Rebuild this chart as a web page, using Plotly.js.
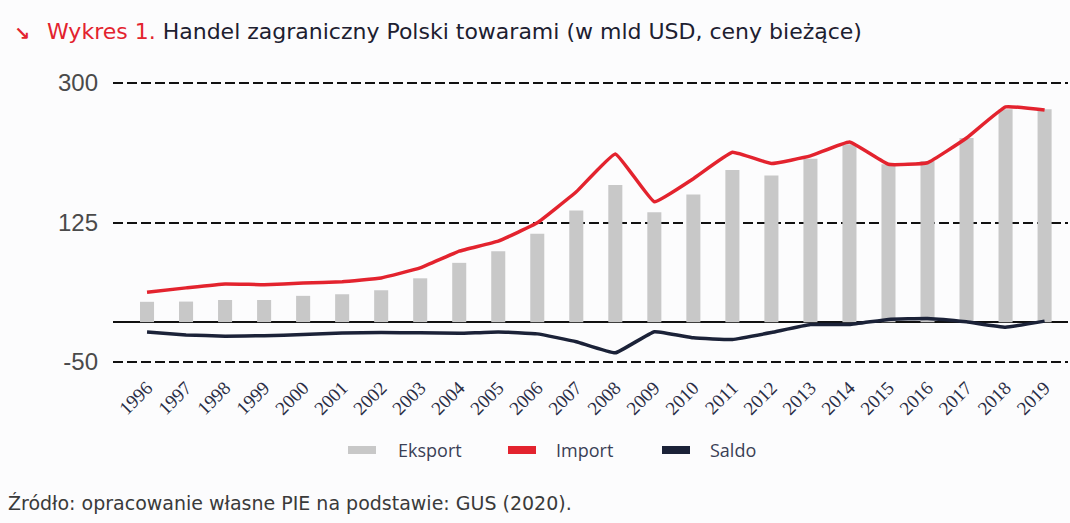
<!DOCTYPE html>
<html>
<head>
<meta charset="utf-8">
<script src="https://cdn.plot.ly/plotly-3.0.1.min.js"></script>
<style>html,body{margin:0;padding:0;background:#fcfcfd;}#chart{width:1070px;height:523px;}</style>
</head>
<body>
<div id="chart"></div>
<script>
const years = ["1996","1997","1998","1999","2000","2001","2002","2003","2004","2005","2006","2007","2008","2009","2010","2011","2012","2013","2014","2015","2016","2017","2018","2019"];
const eksport = [25.5,25.8,27.8,27.8,33,35,40,55,74.4,89,111,140,172,138,160,191,184,205,223,198,202,231,267,267];
const importV = [37.6,43,48,47,49,50.8,55.5,68,89,101.6,124.6,163.5,211,151,180,213,199,208.5,226,198,200,231,270,266];
const saldo = [-12.5,-16,-17.6,-17,-15.5,-13.6,-13,-13.4,-14,-12.2,-14.7,-24.5,-38.5,-12,-19.7,-21.7,-13,-3,-3,3.4,4.6,0.4,-6.3,1.3];
const yTicks = [-50,125,300];
const seriesNames = ["Eksport","Import","Saldo"];
const colors = {eksport:"#c8c8c8", import:"#e3232e", saldo:"#1b2238"};

const W=1070,H=523, L=113, R=2, T=79, B=157;
const pw=W-L-R, ph=H-T-B;
const px2x = p => (p-L)/pw;
const py2y = p => (H-B-p)/ph;

const traces = [
  {type:"bar", x:years, y:eksport, name:seriesNames[0], marker:{color:colors.eksport}, width:0.36, showlegend:false},
  {type:"scatter", mode:"lines", x:years, y:importV, name:seriesNames[1], line:{color:colors.import, width:3.5, shape:"spline", smoothing:0.3}, showlegend:false},
  {type:"scatter", mode:"lines", x:years, y:saldo, name:seriesNames[2], line:{color:colors.saldo, width:3.5, shape:"spline", smoothing:0.3}, showlegend:false}
];

const legendItems = [
  {name:seriesNames[0], color:colors.eksport, sx:348, tx:396},
  {name:seriesNames[1], color:colors.import, sx:508, tx:554},
  {name:seriesNames[2], color:colors.saldo, sx:662, tx:708}
];
const shapes = legendItems.map(it => ({type:"rect", xref:"paper", yref:"paper", x0:px2x(it.sx), x1:px2x(it.sx+28), y0:py2y(454), y1:py2y(446), fillcolor:it.color, line:{width:0}}));
const annotations = legendItems.map(it => ({xref:"paper", yref:"paper", x:px2x(it.tx), y:py2y(450), xanchor:"left", yanchor:"middle", showarrow:false, text:it.name, font:{family:"Open Sans, Liberation Sans, sans-serif", size:18, color:"#3a3f55"}}));
annotations.push({xref:"paper", yref:"paper", x:px2x(12), y:py2y(33), xanchor:"left", yanchor:"middle", showarrow:false, text:"<b>↘</b>", font:{family:"DejaVu Sans", size:19, color:"#e3232e"}});
annotations.push({xref:"paper", yref:"paper", x:px2x(6), y:py2y(503), xanchor:"left", yanchor:"middle", showarrow:false, text:"Źródło: opracowanie własne PIE na podstawie: GUS (2020).", font:{family:"DejaVu Sans, sans-serif", size:19, color:"#3a3a3a"}});

const layout = {
  width:W, height:H,
  margin:{l:L, r:R, t:T, b:B, pad:0},
  paper_bgcolor:"#fcfcfd", plot_bgcolor:"#fcfcfd",
  title:{text:'<span style="color:#e3232e">Wykres 1.</span> Handel zagraniczny Polski towarami (w mld USD, ceny bieżące)', x:47/W, xref:"container", xanchor:"left", y:1-31/H, yref:"container", yanchor:"middle", font:{family:"DejaVu Sans, sans-serif", size:22, color:"#1d2030"}},
  showlegend:false,
  xaxis:{type:"category", range:[-0.872, 23.6], showgrid:false, zeroline:false, showline:false, ticks:"", tickangle:-45, tickfont:{family:"Liberation Serif, serif", size:19, color:"#2a2d45"}, ticklabelstandoff:6, fixedrange:true},
  yaxis:{range:[-55,305], tickvals:yTicks, ticktext:yTicks.map(String), showgrid:true, gridcolor:"#111", gridwidth:2, griddash:"10px,4px", zeroline:true, zerolinecolor:"#111", zerolinewidth:1.8, showline:false, ticks:"", tickfont:{family:"Liberation Sans, Arial, sans-serif", size:24, color:"#4a4a4a"}, ticklabelstandoff:14, fixedrange:true},
  shapes:shapes,
  annotations:annotations
};
Plotly.newPlot("chart", traces, layout, {displayModeBar:false, staticPlot:true});
</script>
</body>
</html>
